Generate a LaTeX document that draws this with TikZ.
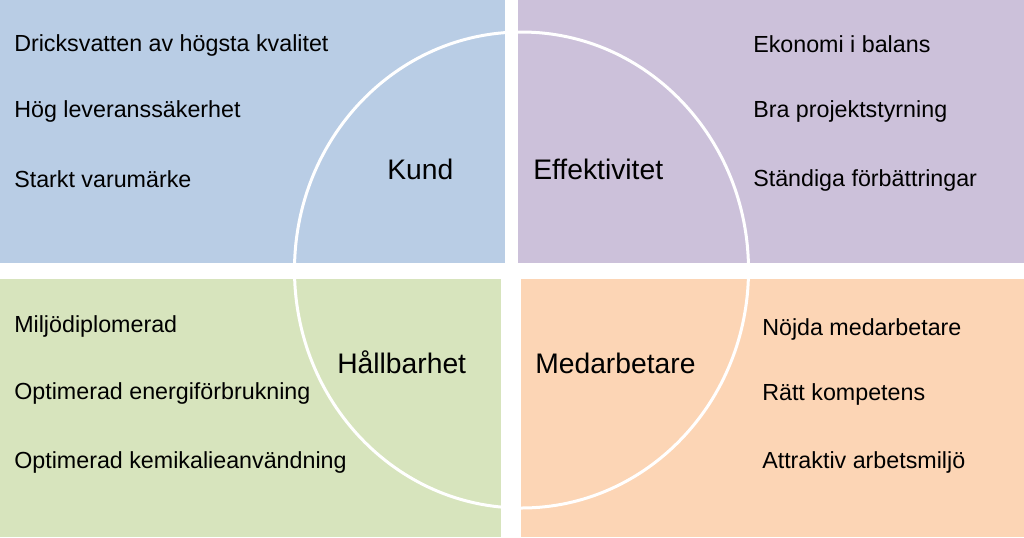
\documentclass[tikz,border=0pt]{standalone}
\usepackage{fontspec}
\setmainfont{Liberation Sans}
\usetikzlibrary{positioning}

\definecolor{kundblue}{HTML}{B9CDE5}
\definecolor{effpurple}{HTML}{CCC1DA}
\definecolor{hallgreen}{HTML}{D7E4BD}
\definecolor{medorange}{HTML}{FCD5B5}

\begin{document}
\begin{tikzpicture}[x=0.75pt,y=-0.75pt,
    item/.style={anchor=base west,inner sep=0pt,font=\fontsize{17.45}{20}\selectfont},
    head/.style={anchor=base west,inner sep=0pt,font=\fontsize{21.2}{25}\selectfont}]
    \useasboundingbox (0,0) rectangle (1024,537);

    % quadrants
    \foreach \c/\xa/\ya/\xb/\yb in {kundblue/0/0/505/263,effpurple/518/0/1024/263,hallgreen/0/279/501/537,medorange/521/279/1024/537}
      \fill[\c] (\xa,\ya) rectangle (\xb,\yb);

    \draw[white,line width=2.25pt] (521.5,270) ellipse [x radius=170.25pt,y radius=178.5pt];

    \node[head] (kund) at (387,179) {Kund};
    \node[head] (eff) at (533,179) {Effektivitet};
    \node[head] (hall) at (337,373) {Hållbarhet};
    \node[head] (med) at (535,373) {Medarbetare};

    % goals per quadrant
    \foreach \x/\y/\t [count=\i] in {14/51/Dricksvatten av högsta kvalitet,14/117/Hög leveranssäkerhet,14/187/Starkt varumärke,
      753/52/Ekonomi i balans,753/117/Bra projektstyrning,753/186/Ständiga förbättringar,
      14/332/Miljödiplomerad,14/399/Optimerad energiförbrukning,14/468/Optimerad kemikalieanvändning,
      762/335/Nöjda medarbetare,762/400/Rätt kompetens,762/468/Attraktiv arbetsmiljö}
      \node[item] (goal\i) at (\x,\y) {\t};
\end{tikzpicture}
\end{document}
